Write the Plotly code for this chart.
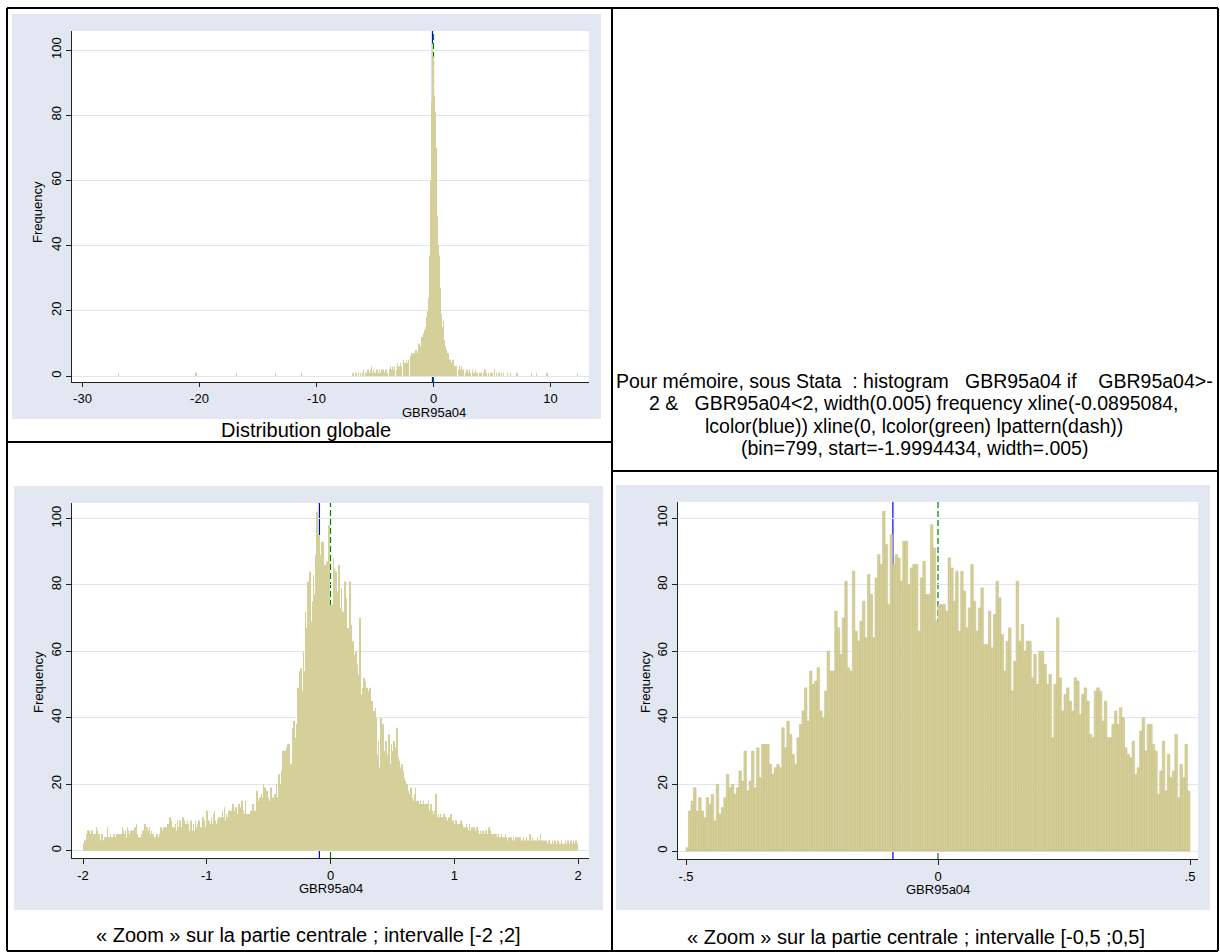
import plotly.graph_objects as go

W, H = 1220, 952

# ---------------- data ----------------
BIN_WIDTH = 0.005
WIDE_START = -1.9994434
ZOOM_START = -0.5
MEAN_X = -0.0895084
ZERO_X = 0.0

# 200 bins on [-0.5, 0.5]
ZOOM_COUNTS = [
    1, 12, 15, 19, 12, 16, 12, 10, 16, 14, 17, 9, 20, 11, 13, 16, 23, 19, 20, 17,
    19, 24, 21, 30, 18, 21, 30, 19, 31, 22, 32, 32, 32, 26, 23, 25, 26, 25, 37, 31,
    39, 35, 29, 26, 34, 38, 42, 49, 39, 54,
    50, 51, 55, 42, 40, 48, 60, 54, 54, 72, 67, 59, 70, 81, 55, 54, 84, 66, 63, 69,
    75, 64, 83, 77, 64, 82, 89, 86, 102, 92, 74, 95, 86, 89, 88, 81, 93, 93, 80, 85,
    86, 86, 66, 82, 87, 77, 77, 98, 91, 69,
    74, 74, 74, 72, 88, 85, 75, 84, 66, 84, 78, 67, 73, 86, 75, 66, 73, 79, 62, 62,
    72, 61, 71, 81, 76, 65, 54, 63, 67, 48, 57, 81, 63, 68, 60, 63, 63, 52, 59, 50,
    60, 60, 56, 50, 53, 34, 50, 70, 52, 42, 47, 49,
    45, 42, 52, 51, 41, 47, 49, 45, 35, 34, 48, 49, 48, 39, 45, 34, 34, 38, 42, 38,
    43, 40, 31, 29, 28, 33, 23, 25, 36, 40, 30, 38, 38, 32, 30, 17, 24, 33, 18, 29,
    22, 24, 35, 16, 26, 22, 32, 18,
]

# 300 bins on [-2, -0.5]
WIDE_LEFT_COUNTS = [
    1, 2, 3, 3, 2, 5, 5, 6, 5, 6, 5, 5, 4, 5, 6, 5, 5, 4, 3, 5,
    5, 7, 6, 5, 5, 4, 5, 3, 3, 4, 5, 4, 3, 3, 4, 4, 4, 3, 4, 7,
    4, 4, 3, 4, 5, 4, 3, 2, 4, 5, 3, 4, 4, 3, 5, 4, 3, 4, 5, 4,
    3, 5, 4, 7, 6, 3, 5, 4, 6, 3, 4, 7, 5, 6, 3, 5, 6, 4, 5, 6,
    5, 6, 4, 7, 5, 6, 8, 5, 4, 2, 4, 3, 1, 4, 5, 4, 6, 5, 6, 7,
    8, 6, 5, 7, 6, 4, 5, 7, 5, 4, 6, 5, 4, 5, 3, 4, 3, 4, 3, 5,
    4, 3, 4, 5, 4, 7, 6, 5, 6, 4, 7, 6, 5, 6, 7, 6, 5, 8, 6, 5,
    10, 8, 9, 7, 5, 6, 7, 5, 6, 8, 5, 6, 9, 5, 7, 6, 9, 8, 6, 7,
    5, 10, 8, 9, 7, 5, 8, 6, 9, 5, 8, 6, 4, 5, 9, 7, 6, 5, 8, 5,
    6, 9, 7, 5, 6, 8, 5, 9, 7, 6, 7, 5, 6, 10, 7, 8, 9, 6, 7, 5,
    12, 7, 6, 9, 6, 8, 6, 10, 6, 8, 11, 7, 12, 9, 8, 8, 7, 9, 8, 10,
    9, 8, 10, 9, 8, 12, 9, 10, 13, 8, 9, 11, 9, 8, 10, 12, 9, 11, 10, 12,
    10, 9, 14, 11, 12, 10, 9, 13, 11, 10, 9, 12, 14, 10, 11, 13, 15, 10, 12, 9,
    11, 9, 15, 11, 10, 9, 11, 10, 10, 11, 9, 12, 10, 9, 14, 11, 9, 12, 10, 12,
    13, 18, 12, 15, 14, 16, 13, 15, 17, 14, 16, 20, 15, 17, 19, 16, 14, 18, 15, 16,
]

# 299 bins on [0.5, 2]
WIDE_RIGHT_COUNTS = [
    30, 28, 33, 26, 31, 27, 29, 37, 25, 28, 24, 27, 22, 25, 23, 26, 21, 24, 22, 20,
    21, 18, 17, 20, 15, 18, 16, 14, 17, 19, 15, 13, 16, 14, 15, 17, 13, 19, 15, 14,
    13, 15, 12, 14, 13, 15, 12, 14, 11, 13, 15, 12, 14, 13, 11, 14, 12, 13, 15, 12,
    11, 13, 14, 10, 12, 11, 10, 9, 12, 10, 17, 9, 10, 8, 11, 9, 10, 11, 8, 10,
    9, 10, 8, 11, 9, 8, 10, 7, 9, 8, 9, 10, 8, 7, 11, 9, 8, 9, 7, 8,
    8, 7, 9, 6, 8, 7, 5, 8, 6, 7, 9, 6, 5, 8, 7, 6, 5, 7, 6, 8,
    6, 7, 5, 6, 8, 5, 6, 4, 7, 5, 6, 7, 5, 4, 6, 5, 7, 4, 6, 5,
    5, 4, 6, 3, 5, 4, 6, 5, 3, 4, 5, 6, 4, 3, 5, 4, 7, 6, 4, 5,
    4, 5, 3, 4, 5, 3, 4, 5, 4, 3, 4, 5, 3, 4, 4, 3, 5, 4, 3, 4,
    3, 4, 5, 3, 4, 3, 2, 4, 3, 4, 2, 3, 4, 3, 2, 4, 3, 2, 3, 4,
    3, 2, 4, 3, 2, 3, 4, 2, 3, 2, 3, 4, 2, 3, 3, 2, 4, 3, 2, 3,
    2, 3, 5, 2, 3, 2, 4, 3, 2, 1, 3, 2, 3, 2, 4, 2, 3, 2, 3, 5,
    2, 3, 1, 2, 3, 2, 1, 2, 3, 2, 1, 2, 2, 3, 1, 2, 1, 2, 3, 2,
    1, 2, 3, 1, 2, 1, 2, 3, 2, 1, 2, 2, 1, 3, 2, 1, 2, 1, 2, 3,
    2, 1, 2, 3, 1, 2, 1, 2, 3, 2, 1, 2, 3, 1, 2, 2, 3, 1, 2,
]

# non-empty bins outside [-2, 2] (global distribution)
TAIL_LEFT_X = [-26.9, -20.3, -16.8, -13.5, -11.3,
               -6.95, -6.85, -6.7, -6.55, -6.4, -6.25, -6.1, -5.95, -5.85, -5.75,
               -5.6, -5.5, -5.4, -5.3, -5.2, -5.1, -5.0, -4.9, -4.8, -4.7,
               -4.6, -4.5, -4.4, -4.3, -4.2, -4.1, -4.0, -3.9, -3.8, -3.7,
               -3.6, -3.5, -3.4, -3.3, -3.2, -3.1, -3.0, -2.9, -2.8, -2.7,
               -2.6, -2.5, -2.4, -2.3, -2.2, -2.1]
TAIL_LEFT_COUNTS = [1, 1, 1, 1, 1,
                    1, 1, 1, 1, 1, 1, 1, 2, 1, 1,
                    2, 1, 2, 3, 1, 2, 1, 2, 2, 1,
                    2, 1, 2, 2, 1, 2, 2, 1, 2, 3,
                    2, 3, 2, 3, 2, 4, 3, 3, 4, 3,
                    5, 4, 4, 5, 4, 5]
TAIL_RIGHT_X = [2.1, 2.2, 2.3, 2.4, 2.5, 2.6, 2.7, 2.8, 2.9, 3.0,
                3.1, 3.2, 3.3, 3.4, 3.5, 3.6, 3.7, 3.8, 3.9, 4.0,
                4.1, 4.3, 4.4, 4.5, 4.7, 4.9, 5.0, 5.2, 5.4, 5.6,
                5.8, 6.0, 6.3, 6.6, 7.1, 7.2, 8.4, 8.8, 9.7, 12.3]
TAIL_RIGHT_COUNTS = [2, 3, 2, 3, 2, 2, 1, 2, 2, 1,
                     2, 1, 2, 1, 1, 2, 1, 1, 1, 1,
                     1, 1, 2, 1, 1, 1, 1, 2, 1, 1,
                     1, 1, 1, 1, 1, 1, 1, 1, 1, 1]

Y_TICKS = [0, 20, 40, 60, 80, 100]
X_TICKS_GLOBAL = [-30, -20, -10, 0, 10]
X_TICKS_WIDE = [-2, -1, 0, 1, 2]
X_TICKS_ZOOM = [-0.5, 0, 0.5]
X_TICKTEXT_ZOOM = ["-.5", "0", ".5"]

CAPTIONS = ["Distribution globale",
            "« Zoom » sur la partie centrale ; intervalle [-2 ;2]",
            "« Zoom » sur la partie centrale ; intervalle [-0,5 ;0,5]"]
NOTE_LINES = [
    "Pour mémoire, sous Stata  : histogram   GBR95a04 if    GBR95a04>-",
    "2 &   GBR95a04<2, width(0.005) frequency xline(-0.0895084,",
    "lcolor(blue)) xline(0, lcolor(green) lpattern(dash))",
    "(bin=799, start=-1.9994434, width=.005)",
]

# ---------------- style ----------------
STATA_FONT = "Liberation Sans, Arial, sans-serif"
DOC_FONT = "Liberation Sans, Arial, sans-serif"
BG_COL = "#E2E7F1"
GRID_COL = "#E1E6EE"
BAR_COL = "#D5CF9A"
BAR_LINE = "#C7C083"


def fx(p):
    return p / W


def fy(p):
    return 1 - p / H


def lin_range(va, pa, vb, pb, p0, p1):
    s = (vb - va) / (pb - pa)
    return [va + (p0 - pa) * s, va + (p1 - pa) * s]


# panel geometry in page pixels
PANELS = {
    "global": dict(bg=(12, 14, 601, 419), plot=(72, 31, 589, 382),
                   xref=(-30, 82.5, 10, 550.5), yref=(0, 376, 100, 50),
                   ytitle=(37, 212), xtitle=(433.5, 412)),
    "wide": dict(bg=(14, 486, 603, 910), plot=(72, 503, 589, 858),
                 xref=(-2, 83, 2, 578), yref=(0, 850.5, 100, 518.5),
                 ytitle=(38, 682), xtitle=(330.5, 888)),
    "zoom": dict(bg=(616, 485, 1210, 910), plot=(678, 502, 1198, 859),
                 xref=(-0.5, 686, 0.5, 1190), yref=(0, 851, 100, 518),
                 ytitle=(645, 682), xtitle=(938, 889)),
}

# ---------------- bins ----------------
wide_counts = WIDE_LEFT_COUNTS + ZOOM_COUNTS + WIDE_RIGHT_COUNTS
wide_x = [WIDE_START + BIN_WIDTH * (i + 0.5) for i in range(len(wide_counts))]
zoom_x = [ZOOM_START + BIN_WIDTH * (i + 0.5) for i in range(len(ZOOM_COUNTS))]
glob_x = TAIL_LEFT_X + wide_x + TAIL_RIGHT_X
glob_counts = TAIL_LEFT_COUNTS + wide_counts + TAIL_RIGHT_COUNTS

fig = go.Figure()
fig.add_trace(go.Bar(x=glob_x, y=glob_counts, width=BIN_WIDTH,
                     marker=dict(color=BAR_COL, line=dict(width=0)),
                     xaxis="x", yaxis="y", hoverinfo="skip"))
fig.add_trace(go.Bar(x=wide_x, y=wide_counts, width=BIN_WIDTH,
                     marker=dict(color=BAR_COL, line=dict(width=0)),
                     xaxis="x2", yaxis="y2", hoverinfo="skip"))
fig.add_trace(go.Bar(x=zoom_x, y=ZOOM_COUNTS, width=BIN_WIDTH,
                     marker=dict(color=BAR_COL, line=dict(width=0.6, color=BAR_LINE)),
                     xaxis="x3", yaxis="y3", hoverinfo="skip"))

tickfont = dict(family=STATA_FONT, size=13, color="black")
axis_common = dict(showline=True, linecolor="#222222", linewidth=1, ticks="outside",
                   ticklen=5, tickwidth=1, tickcolor="#222222", zeroline=False,
                   tickfont=tickfont, fixedrange=True)

layout_axes = {}
shapes = []
annotations = []


def add_text(txt, cx, cy, font, angle=0):
    annotations.append(dict(text=txt, x=fx(cx), y=fy(cy), xref="paper", yref="paper",
                            xanchor="center", yanchor="middle", showarrow=False,
                            textangle=angle, font=font))


keys = [("global", "", X_TICKS_GLOBAL, [str(v) for v in X_TICKS_GLOBAL]),
        ("wide", "2", X_TICKS_WIDE, [str(v) for v in X_TICKS_WIDE]),
        ("zoom", "3", X_TICKS_ZOOM, X_TICKTEXT_ZOOM)]

title_font = dict(family=STATA_FONT, size=13, color="black")
for name, suf, xt, xtt in keys:
    p = PANELS[name]
    bx0, by0, bx1, by1 = p["bg"]
    px0, py0, px1, py1 = p["plot"]
    xa, xpa, xb, xpb = p["xref"]
    ya, ypa, yb, ypb = p["yref"]
    layout_axes["xaxis" + suf] = dict(
        axis_common, domain=[fx(px0), fx(px1)],
        range=lin_range(xa, xpa, xb, xpb, px0, px1),
        tickmode="array", tickvals=xt, ticktext=xtt, showgrid=False,
        ticklen=4 if name == "global" else 5,
        anchor="y" + suf)
    layout_axes["yaxis" + suf] = dict(
        axis_common, domain=[fy(py1), fy(py0)],
        range=lin_range(ya, ypa, yb, ypb, py1, py0),
        tickmode="array", tickvals=Y_TICKS, ticktext=[str(v) for v in Y_TICKS],
        tickangle=-90, showgrid=True, gridcolor=GRID_COL, gridwidth=1.3,
        anchor="x" + suf)
    shapes.append(dict(type="rect", xref="paper", yref="paper",
                       x0=fx(bx0), x1=fx(bx1), y0=fy(by1), y1=fy(by0),
                       fillcolor=BG_COL, line=dict(width=0), layer="below"))
    shapes.append(dict(type="rect", xref="paper", yref="paper",
                       x0=fx(px0), x1=fx(px1), y0=fy(py1), y1=fy(py0),
                       fillcolor="white", line=dict(width=0), layer="below"))
    shapes.append(dict(type="line", xref="x" + suf, yref="y" + suf + " domain",
                       x0=MEAN_X, x1=MEAN_X, y0=0, y1=1,
                       line=dict(color="#0000FF", width=1.2), layer="below"))
    shapes.append(dict(type="line", xref="x" + suf, yref="y" + suf + " domain",
                       x0=ZERO_X, x1=ZERO_X, y0=0, y1=1,
                       line=dict(color="#008000", width=1.2, dash="6px,3px"),
                       layer="below"))
    add_text("Frequency", *p["ytitle"], title_font, angle=-90)
    add_text("GBR95a04", *p["xtitle"], title_font)

doc_font = dict(family=DOC_FONT, size=20, color="black")
for txt, (cx, cy) in zip(CAPTIONS, [(306, 430), (308, 935), (916, 937)]):
    add_text(txt, cx, cy, doc_font)
note_font = dict(family=DOC_FONT, size=19.5, color="black")
for txt, cy in zip(NOTE_LINES, [381, 403, 426, 448]):
    add_text(txt, 914, cy, note_font)

# table borders
BORDER = dict(color="black", width=2)
for (x0, y0, x1, y1) in [(7, 8, 1218, 8), (7, 951, 1218, 951), (7, 8, 7, 951),
                         (1218, 8, 1218, 951), (612, 8, 612, 951),
                         (7, 442, 612, 442), (612, 471, 1218, 471)]:
    shapes.append(dict(type="line", xref="paper", yref="paper",
                       x0=fx(x0), x1=fx(x1), y0=fy(y0), y1=fy(y1),
                       line=BORDER, layer="above"))

fig.update_layout(width=W, height=H, margin=dict(l=0, r=0, t=0, b=0),
                  paper_bgcolor="white", plot_bgcolor="white",
                  showlegend=False, barmode="overlay",
                  shapes=shapes, annotations=annotations, **layout_axes)

fig.write_html("out.html", config={"displayModeBar": False},
               post_script="document.body.style.margin='0';document.body.style.overflow='hidden';")
